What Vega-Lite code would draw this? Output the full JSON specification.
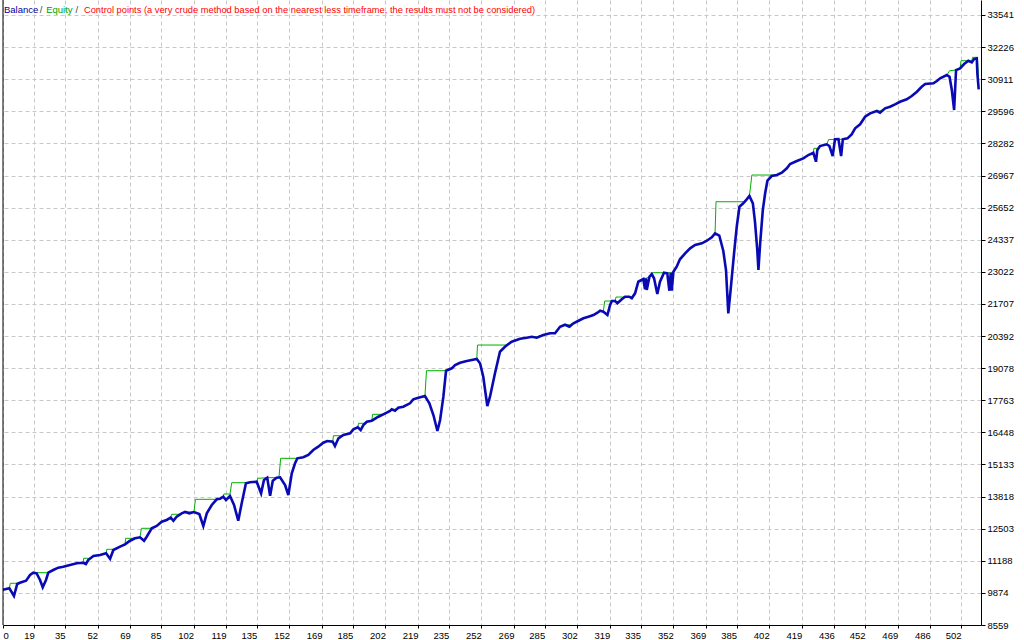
{
  "$schema": "https://vega.github.io/schema/vega-lite/v6.json",
  "width": 978,
  "height": 625,
  "autosize": {"type": "none"},
  "padding": {"left": 3, "top": 0, "right": 43, "bottom": 15},
  "background": "white",
  "config": {
    "view": {"stroke": null},
    "axis": {"labelFont": "Liberation Sans", "labelFontSize": 9.5, "labelColor": "#000000", "domainColor": "#000000", "tickColor": "#000000", "gridColor": "#c8c8c8", "gridDash": [4, 3], "gridWidth": 1, "title": null, "labelOverlap": false, "labelFlush": false, "labelBound": false},
    "text": {"font": "Liberation Sans", "fontSize": 9.5}
  },
  "resolve": {"axis": {"x": "independent", "y": "independent"}},
  "datasets": {
    "balance": [
      {"n":2.7,"v":10000},{"n":6.0,"v":10062},{"n":8.4,"v":9747},{"n":10.1,"v":10238},{"n":11.5,"v":10291},{"n":14.7,"v":10373},{"n":16.8,"v":10607},{"n":18.5,"v":10701},{"n":20.2,"v":10676},{"n":22.0,"v":10402},{"n":23.4,"v":10103},{"n":25.1,"v":10402},{"n":26.3,"v":10701},{"n":28.9,"v":10811},{"n":31.5,"v":10906},{"n":34.1,"v":10947},{"n":37.6,"v":11016},{"n":41.1,"v":11086},{"n":44.5,"v":11110},{"n":45.9,"v":11057},{"n":47.1,"v":11221},{"n":49.8,"v":11385},{"n":53.3,"v":11426},{"n":56.4,"v":11495},{"n":58.5,"v":11274},{"n":60.2,"v":11630},{"n":63.7,"v":11766},{"n":66.3,"v":11864},{"n":68.9,"v":12011},{"n":71.5,"v":12110},{"n":74.1,"v":12151},{"n":76.2,"v":12011},{"n":77.6,"v":12175},{"n":80.2,"v":12519},{"n":82.8,"v":12613},{"n":85.4,"v":12789},{"n":88.0,"v":12859},{"n":90.1,"v":12953},{"n":91.5,"v":12830},{"n":93.2,"v":12994},{"n":95.8,"v":13133},{"n":97.6,"v":13187},{"n":99.8,"v":13133},{"n":102.2,"v":13187},{"n":105.0,"v":13105},{"n":107.1,"v":12613},{"n":108.9,"v":13133},{"n":111.5,"v":13473},{"n":114.1,"v":13707},{"n":115.8,"v":13732},{"n":117.5,"v":13813},{"n":118.9,"v":13678},{"n":121.0,"v":13842},{"n":123.1,"v":13473},{"n":125.3,"v":12830},{"n":127.1,"v":13543},{"n":129.3,"v":14362},{"n":131.4,"v":14403},{"n":134.9,"v":14428},{"n":137.2,"v":13952},{"n":138.7,"v":14497},{"n":140.4,"v":14591},{"n":141.9,"v":13854},{"n":143.3,"v":14469},{"n":145.3,"v":14591},{"n":147.1,"v":14608},{"n":149.7,"v":14292},{"n":151.4,"v":13883},{"n":153.2,"v":14771},{"n":154.9,"v":15181},{"n":156.1,"v":15386},{"n":159.2,"v":15427},{"n":161.8,"v":15521},{"n":164.4,"v":15725},{"n":167.0,"v":15861},{"n":169.6,"v":16024},{"n":171.7,"v":16094},{"n":174.5,"v":16065},{"n":175.7,"v":15889},{"n":177.5,"v":16205},{"n":180.1,"v":16340},{"n":183.6,"v":16410},{"n":185.3,"v":16573},{"n":187.6,"v":16655},{"n":189.1,"v":16544},{"n":190.5,"v":16749},{"n":192.3,"v":16884},{"n":194.9,"v":16925},{"n":198.3,"v":17089},{"n":200.9,"v":17187},{"n":204.4,"v":17323},{"n":205.3,"v":17392},{"n":207.0,"v":17335},{"n":208.7,"v":17458},{"n":211.3,"v":17499},{"n":214.8,"v":17638},{"n":216.5,"v":17802},{"n":219.2,"v":17868},{"n":222.6,"v":17937},{"n":224.9,"v":17638},{"n":227.0,"v":17159},{"n":229.1,"v":16504},{"n":230.5,"v":16954},{"n":232.2,"v":17908},{"n":233.6,"v":18973},{"n":236.6,"v":19071},{"n":238.3,"v":19206},{"n":240.9,"v":19300},{"n":244.4,"v":19370},{"n":247.0,"v":19411},{"n":249.6,"v":19452},{"n":251.3,"v":19276},{"n":253.0,"v":18727},{"n":255.1,"v":17527},{"n":256.5,"v":17908},{"n":259.1,"v":18866},{"n":261.7,"v":19751},{"n":264.3,"v":19956},{"n":267.8,"v":20161},{"n":272.2,"v":20284},{"n":275.6,"v":20324},{"n":278.3,"v":20365},{"n":280.9,"v":20324},{"n":284.3,"v":20435},{"n":287.8,"v":20505},{"n":290.4,"v":20505},{"n":293.0,"v":20775},{"n":295.6,"v":20857},{"n":297.9,"v":20775},{"n":300.0,"v":20915},{"n":303.4,"v":21049},{"n":305.2,"v":21119},{"n":307.8,"v":21185},{"n":310.4,"v":21254},{"n":312.5,"v":21348},{"n":313.9,"v":21430},{"n":315.6,"v":21389},{"n":317.7,"v":21254},{"n":319.1,"v":21663},{"n":320.0,"v":21827},{"n":321.7,"v":21827},{"n":322.9,"v":21733},{"n":325.2,"v":21897},{"n":326.9,"v":22003},{"n":329.1,"v":22003},{"n":330.4,"v":21938},{"n":332.1,"v":22142},{"n":333.8,"v":22617},{"n":336.4,"v":22728},{"n":337.3,"v":22306},{"n":337.8,"v":22757},{"n":338.2,"v":22278},{"n":339.6,"v":22822},{"n":340.8,"v":22933},{"n":342.0,"v":22757},{"n":343.7,"v":22114},{"n":345.1,"v":22617},{"n":347.2,"v":22986},{"n":348.9,"v":22961},{"n":350.0,"v":22249},{"n":350.7,"v":22986},{"n":351.2,"v":22249},{"n":352.1,"v":23027},{"n":353.8,"v":23232},{"n":355.5,"v":23535},{"n":358.2,"v":23781},{"n":360.8,"v":23985},{"n":363.4,"v":24120},{"n":366.9,"v":24190},{"n":369.5,"v":24297},{"n":372.1,"v":24436},{"n":373.8,"v":24600},{"n":376.0,"v":24509},{"n":378.1,"v":23875},{"n":379.5,"v":23097},{"n":380.7,"v":21324},{"n":381.9,"v":22278},{"n":383.7,"v":23781},{"n":385.1,"v":24870},{"n":386.5,"v":25689},{"n":388.5,"v":25828},{"n":390.3,"v":25992},{"n":391.7,"v":26127},{"n":393.5,"v":25828},{"n":394.6,"v":25075},{"n":395.8,"v":23916},{"n":396.4,"v":23097},{"n":397.3,"v":24190},{"n":398.7,"v":25559},{"n":399.9,"v":26238},{"n":401.1,"v":26754},{"n":403.3,"v":26946},{"n":406.0,"v":26987},{"n":408.6,"v":27081},{"n":411.2,"v":27261},{"n":412.9,"v":27437},{"n":416.4,"v":27560},{"n":419.8,"v":27671},{"n":422.4,"v":27806},{"n":425.0,"v":27900},{"n":426.4,"v":27531},{"n":427.1,"v":28011},{"n":428.5,"v":28175},{"n":432.0,"v":28244},{"n":433.4,"v":28175},{"n":435.1,"v":27765},{"n":436.3,"v":28449},{"n":438.1,"v":28461},{"n":439.5,"v":27765},{"n":440.4,"v":28449},{"n":442.8,"v":28490},{"n":445.0,"v":28654},{"n":446.8,"v":28899},{"n":449.4,"v":29063},{"n":452.0,"v":29374},{"n":454.6,"v":29514},{"n":458.1,"v":29608},{"n":459.8,"v":29538},{"n":462.4,"v":29718},{"n":465.0,"v":29784},{"n":467.6,"v":29882},{"n":470.2,"v":29989},{"n":473.7,"v":30087},{"n":476.3,"v":30222},{"n":479.0,"v":30398},{"n":481.5,"v":30603},{"n":483.3,"v":30713},{"n":487.6,"v":30742},{"n":489.4,"v":30836},{"n":491.1,"v":30947},{"n":494.6,"v":31082},{"n":496.0,"v":31012},{"n":497.2,"v":30468},{"n":498.4,"v":29649},{"n":498.9,"v":30468},{"n":499.4,"v":31287},{"n":501.5,"v":31356},{"n":503.6,"v":31533},{"n":505.8,"v":31668},{"n":507.6,"v":31602},{"n":508.8,"v":31737},{"n":510.2,"v":31766},{"n":510.5,"v":31152},{"n":511.2,"v":30496}
    ],
    "equity": [
      {"n":2.7,"v":10000},{"n":6.0,"v":10062},{"n":6.5,"v":10267},{"n":10.1,"v":10267},{"n":11.5,"v":10291},{"n":14.7,"v":10373},{"n":16.8,"v":10607},{"n":18.5,"v":10701},{"n":26.3,"v":10701},{"n":28.9,"v":10811},{"n":31.5,"v":10906},{"n":34.1,"v":10947},{"n":37.6,"v":11016},{"n":41.1,"v":11086},{"n":44.5,"v":11110},{"n":44.7,"v":11291},{"n":48.4,"v":11291},{"n":49.8,"v":11385},{"n":53.3,"v":11426},{"n":56.4,"v":11495},{"n":56.8,"v":11659},{"n":60.9,"v":11659},{"n":63.7,"v":11766},{"n":66.3,"v":11864},{"n":66.6,"v":12110},{"n":71.5,"v":12110},{"n":74.1,"v":12151},{"n":74.8,"v":12519},{"n":80.2,"v":12519},{"n":82.8,"v":12613},{"n":85.4,"v":12789},{"n":88.0,"v":12859},{"n":90.1,"v":12953},{"n":90.6,"v":13093},{"n":95.0,"v":13093},{"n":95.8,"v":13133},{"n":97.6,"v":13187},{"n":102.2,"v":13187},{"n":103.0,"v":13707},{"n":114.1,"v":13707},{"n":115.8,"v":13732},{"n":117.5,"v":13813},{"n":117.8,"v":13924},{"n":121.0,"v":13924},{"n":121.9,"v":14386},{"n":129.5,"v":14386},{"n":131.4,"v":14403},{"n":134.9,"v":14428},{"n":135.5,"v":14567},{"n":140.4,"v":14591},{"n":146.5,"v":14600},{"n":147.4,"v":15386},{"n":156.1,"v":15386},{"n":159.2,"v":15427},{"n":161.8,"v":15521},{"n":164.4,"v":15725},{"n":167.0,"v":15861},{"n":169.6,"v":16024},{"n":171.7,"v":16094},{"n":174.6,"v":16094},{"n":174.9,"v":16311},{"n":180.0,"v":16311},{"n":180.1,"v":16340},{"n":183.6,"v":16410},{"n":185.3,"v":16573},{"n":187.6,"v":16655},{"n":188.0,"v":16819},{"n":190.9,"v":16819},{"n":192.3,"v":16884},{"n":194.9,"v":16925},{"n":195.3,"v":17187},{"n":200.9,"v":17187},{"n":204.4,"v":17323},{"n":205.3,"v":17392},{"n":207.0,"v":17392},{"n":208.7,"v":17458},{"n":211.3,"v":17499},{"n":214.8,"v":17638},{"n":216.5,"v":17802},{"n":219.2,"v":17868},{"n":222.6,"v":17937},{"n":223.4,"v":18973},{"n":233.6,"v":18973},{"n":236.6,"v":19071},{"n":238.3,"v":19206},{"n":240.9,"v":19300},{"n":244.4,"v":19370},{"n":247.0,"v":19411},{"n":249.6,"v":19452},{"n":250.0,"v":20025},{"n":264.8,"v":20025},{"n":267.8,"v":20161},{"n":272.2,"v":20284},{"n":275.6,"v":20324},{"n":278.3,"v":20365},{"n":280.9,"v":20365},{"n":284.3,"v":20435},{"n":287.8,"v":20505},{"n":290.4,"v":20505},{"n":293.0,"v":20775},{"n":295.6,"v":20857},{"n":297.9,"v":20857},{"n":300.0,"v":20915},{"n":303.4,"v":21049},{"n":305.2,"v":21119},{"n":307.8,"v":21185},{"n":310.4,"v":21254},{"n":312.5,"v":21348},{"n":313.9,"v":21430},{"n":315.6,"v":21430},{"n":316.3,"v":21827},{"n":321.7,"v":21827},{"n":322.2,"v":21990},{"n":325.5,"v":21990},{"n":326.9,"v":22003},{"n":330.4,"v":22003},{"n":332.1,"v":22142},{"n":333.8,"v":22617},{"n":336.4,"v":22728},{"n":337.8,"v":22757},{"n":339.6,"v":22822},{"n":340.8,"v":22933},{"n":341.2,"v":22986},{"n":350.7,"v":22986},{"n":352.1,"v":23027},{"n":353.8,"v":23232},{"n":355.5,"v":23535},{"n":358.2,"v":23781},{"n":360.8,"v":23985},{"n":363.4,"v":24120},{"n":366.9,"v":24190},{"n":369.5,"v":24297},{"n":372.1,"v":24436},{"n":373.8,"v":24600},{"n":374.3,"v":25893},{"n":388.8,"v":25893},{"n":390.3,"v":25992},{"n":391.7,"v":26127},{"n":393.0,"v":26987},{"n":406.0,"v":26987},{"n":408.6,"v":27081},{"n":411.2,"v":27261},{"n":412.9,"v":27437},{"n":416.4,"v":27560},{"n":419.8,"v":27671},{"n":422.4,"v":27806},{"n":425.0,"v":27900},{"n":425.3,"v":28080},{"n":427.6,"v":28080},{"n":428.5,"v":28175},{"n":432.0,"v":28244},{"n":433.0,"v":28441},{"n":440.4,"v":28449},{"n":442.8,"v":28490},{"n":445.0,"v":28654},{"n":446.8,"v":28899},{"n":449.4,"v":29063},{"n":452.0,"v":29374},{"n":454.6,"v":29514},{"n":458.1,"v":29608},{"n":459.8,"v":29608},{"n":462.4,"v":29718},{"n":465.0,"v":29784},{"n":467.6,"v":29882},{"n":470.2,"v":29989},{"n":473.7,"v":30087},{"n":476.3,"v":30222},{"n":479.0,"v":30398},{"n":481.5,"v":30603},{"n":483.3,"v":30713},{"n":487.6,"v":30742},{"n":489.4,"v":30836},{"n":491.1,"v":30947},{"n":494.6,"v":31082},{"n":496.0,"v":31258},{"n":499.4,"v":31287},{"n":501.5,"v":31356},{"n":502.0,"v":31668},{"n":507.6,"v":31668},{"n":508.0,"v":31807},{"n":510.5,"v":31807},{"n":511.2,"v":30877}
    ]
  },
  "layer": [
    {
      "data": {"name": "equity"},
      "mark": {"type": "line", "color": "#00b000", "strokeWidth": 1, "interpolate": "linear"},
      "encoding": {
        "x": {"field": "n", "type": "quantitative", "scale": {"domain": [2.69, 512.4], "nice": false, "zero": false},
          "axis": {"orient": "bottom", "values": [2.69,19,35,52,69,85,102,119,135,152,169,185,202,219,235,252,269,285,302,319,335,352,369,385,402,419,436,452,469,486,502],
            "labelExpr": "datum.value < 10 ? '0' : format(datum.value, 'd')",
            "labelAlign": {"condition": {"test": "datum.value < 10", "value": "left"}, "value": "right"},
            "labelOverlap": false, "labelFlush": false, "labelBound": false,
            "labelBaseline": "top", "labelPadding": 2, "tickSize": 3, "grid": true}},
        "y": {"field": "v", "type": "quantitative", "scale": {"domain": [8559, 34155], "nice": false, "zero": false},
          "axis": {"orient": "right", "values": [8559,9874,11188,12503,13818,15133,16448,17763,19078,20392,21707,23022,24337,25652,26967,28282,29596,30911,32226,33541],
            "labelOverlap": false, "labelFlush": false, "labelBound": false,
            "format": "d", "labelAlign": "left", "labelBaseline": "middle", "labelPadding": 2, "tickSize": 4, "grid": true}}
      }
    },
    {
      "data": {"name": "balance"},
      "mark": {"type": "line", "color": "#0a0ab4", "strokeWidth": 2.6, "interpolate": "linear"},
      "encoding": {
        "x": {"field": "n", "type": "quantitative", "axis": null},
        "y": {"field": "v", "type": "quantitative", "axis": null}
      }
    },
    {
      "data": {"values": [{}]},
      "mark": {"type": "rule", "color": "#000000", "strokeWidth": 1},
      "encoding": {"x": {"datum": 2.69, "axis": null}}
    },
    {
      "data": {"values": [{}]},
      "mark": {"type": "text", "text": "Balance", "color": "#0000a0", "align": "left", "baseline": "middle"},
      "encoding": {"x": {"datum": 3.2, "axis": null}, "y": {"datum": 33743, "axis": null}}
    },
    {
      "data": {"values": [{}]},
      "mark": {"type": "text", "text": "/", "color": "#404040", "align": "left", "baseline": "middle"},
      "encoding": {"x": {"datum": 21.8, "axis": null}, "y": {"datum": 33743, "axis": null}}
    },
    {
      "data": {"values": [{}]},
      "mark": {"type": "text", "text": "Equity", "color": "#00a000", "align": "left", "baseline": "middle"},
      "encoding": {"x": {"datum": 25.2, "axis": null}, "y": {"datum": 33743, "axis": null}}
    },
    {
      "data": {"values": [{}]},
      "mark": {"type": "text", "text": "/", "color": "#404040", "align": "left", "baseline": "middle"},
      "encoding": {"x": {"datum": 40.5, "axis": null}, "y": {"datum": 33743, "axis": null}}
    },
    {
      "data": {"values": [{}]},
      "mark": {"type": "text", "text": "Control points (a very crude method based on the nearest less timeframe, the results must not be considered)", "color": "#ff0000", "align": "left", "baseline": "middle", "fontSize": 9.3},
      "encoding": {"x": {"datum": 44.9, "axis": null}, "y": {"datum": 33743, "axis": null}}
    }
  ]
}
